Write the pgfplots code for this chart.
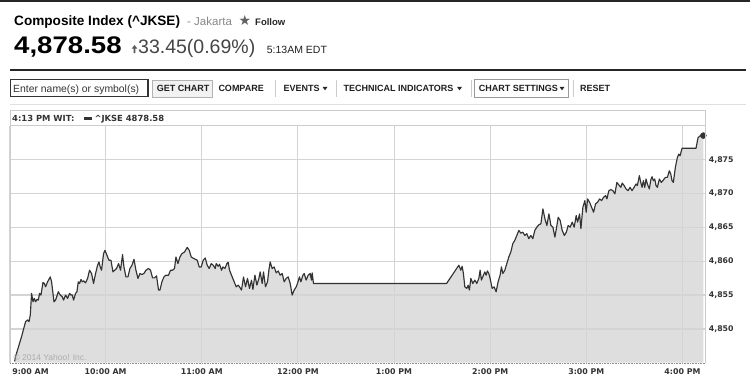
\documentclass[border=0pt]{standalone}
\usepackage{fontspec}
\setmainfont{Liberation Sans}
\newfontfamily\dv{DejaVu Sans}
\usepackage{pgfplots}
\usepackage{pgfplotstable}
\pgfplotsset{compat=1.18}
\definecolor{fillc}{HTML}{DEDEDE}
\definecolor{linec}{HTML}{333333}
\definecolor{gridc}{HTML}{D4D4D4}
\definecolor{framec}{HTML}{CCCCCC}
\newcommand\fs[1]{\fontsize{#1}{#1}\selectfont}
\pgfplotstableread{
m v
3.2 4845.19
3.8 4845.93
7.55 4848.87
10.04 4851.07
11.29 4851.32
12.17 4851.07
12.98 4852.06
13.79 4855.25
14.66 4854.01
15.47 4854.51
16.28 4854.01
17.16 4854.37
17.97 4854.26
18.78 4855.25
19.65 4855.00
20.90 4856.87
21.71 4856.72
22.52 4856.22
23.77 4856.96
25.46 4857.69
26.27 4856.96
27.76 4854.01
28.76 4854.26
30.45 4855.49
31.69 4855.00
32.94 4854.75
33.75 4854.26
35.00 4855.00
36.25 4854.51
37.50 4855.25
38.37 4855.00
39.18 4855.00
39.99 4854.26
41.24 4855.25
42.11 4855.49
42.92 4856.96
43.74 4856.72
44.61 4857.31
45.42 4856.96
46.23 4857.10
47.48 4856.81
48.73 4857.46
49.97 4858.68
51.22 4858.19
52.47 4856.72
53.72 4858.19
54.97 4859.41
55.84 4859.90
56.65 4859.16
57.46 4858.68
58.71 4861.13
59.58 4861.62
60.83 4860.88
62.08 4860.15
63.33 4860.15
64.57 4858.43
66.82 4858.93
68.07 4859.66
69.31 4858.68
70.56 4860.99
71.44 4859.16
72.69 4857.69
73.93 4857.69
75.18 4858.93
76.43 4859.41
77.68 4860.29
78.92 4858.68
80.17 4857.46
81.42 4858.19
82.67 4858.04
83.91 4858.19
85.16 4858.68
86.78 4858.93
88.03 4858.68
89.28 4857.54
90.53 4857.54
91.78 4857.84
93.02 4855.74
93.90 4855.74
95.14 4856.96
96.39 4857.69
97.64 4857.94
99.26 4857.94
100.51 4858.68
101.76 4858.68
103.00 4858.93
103.88 4860.63
105.13 4859.66
106.38 4860.63
107.62 4861.13
109.25 4861.37
110.93 4862.06
112.18 4861.62
113.43 4860.63
115.11 4860.40
117.17 4860.15
118.42 4859.16
119.67 4859.16
120.91 4860.15
122.16 4860.49
123.41 4859.41
124.66 4858.93
125.90 4859.66
127.15 4859.41
128.40 4858.93
129.02 4859.66
130.27 4859.26
131.08 4859.56
132.33 4858.68
133.20 4859.16
134.45 4858.93
135.70 4859.66
136.51 4859.85
137.32 4858.68
138.57 4857.94
139.82 4857.21
141.50 4856.22
142.75 4856.47
143.56 4856.22
144.81 4855.74
146.06 4857.69
147.31 4856.22
148.55 4857.46
149.80 4855.99
151.05 4857.21
151.92 4855.84
153.17 4857.94
154.42 4856.47
155.66 4857.46
156.47 4858.43
157.72 4856.72
158.53 4858.43
159.78 4856.22
161.03 4856.96
161.90 4858.68
162.71 4859.90
163.96 4858.93
165.21 4859.16
166.46 4858.28
167.71 4858.57
168.95 4857.94
170.20 4858.19
171.45 4856.96
172.70 4857.46
173.95 4857.69
175.19 4856.72
176.44 4855.00
177.69 4855.74
178.94 4856.22
179.75 4856.72
181.00 4857.69
181.87 4856.96
183.12 4857.94
183.93 4858.19
185.17 4857.21
186.42 4857.94
187.67 4858.19
188.48 4857.21
188.92 4858.28
189.73 4856.72
272.83 4856.72
280.44 4859.41
281.69 4858.68
282.50 4859.26
283.31 4858.19
284.19 4856.22
285.44 4855.99
286.25 4856.47
287.06 4855.74
287.93 4857.46
289.18 4856.72
290.43 4857.21
291.68 4856.72
292.93 4857.46
293.74 4858.68
294.55 4857.21
295.80 4857.94
296.67 4858.43
297.48 4857.94
298.29 4858.57
299.17 4858.19
299.98 4857.46
301.23 4855.99
302.48 4856.22
303.72 4855.49
304.97 4856.96
306.22 4857.94
307.03 4859.16
307.91 4858.19
309.16 4858.68
310.40 4859.66
311.65 4860.63
312.90 4861.37
314.15 4862.60
315.39 4863.09
316.64 4863.82
317.89 4864.56
319.14 4864.16
320.39 4864.31
321.63 4863.82
322.88 4864.07
324.13 4863.34
325.38 4863.82
326.63 4863.34
327.87 4864.56
329.12 4865.04
330.43 4865.40
331.68 4865.54
332.93 4867.75
334.18 4866.28
335.42 4865.29
336.67 4867.01
337.92 4865.29
339.17 4865.04
340.42 4863.57
341.66 4865.29
342.47 4866.51
343.72 4866.03
344.97 4864.56
346.33 4863.82
347.57 4864.31
348.71 4865.29
349.96 4865.04
351.21 4865.78
352.46 4865.04
353.70 4866.76
354.58 4865.78
355.82 4867.01
356.64 4864.81
357.88 4867.99
359.13 4868.97
359.94 4867.25
360.82 4869.22
362.06 4868.72
363.31 4867.99
364.56 4867.25
365.81 4868.49
367.06 4868.72
368.30 4869.22
369.55 4868.97
370.80 4869.46
372.05 4869.71
372.86 4869.22
374.11 4870.44
375.36 4870.59
376.61 4870.44
377.85 4869.96
379.10 4871.66
380.35 4871.28
381.60 4870.93
382.41 4871.57
383.66 4871.18
384.83 4870.69
386.08 4870.44
387.33 4870.93
388.58 4870.44
389.83 4870.93
391.07 4871.43
391.88 4871.18
393.13 4872.65
394.01 4871.66
394.82 4870.93
395.63 4871.91
396.50 4870.93
397.31 4872.16
398.12 4871.43
399.37 4870.69
400.24 4872.01
401.06 4872.50
401.87 4871.91
402.74 4872.16
403.55 4871.18
404.36 4870.93
405.61 4872.16
406.86 4871.66
408.11 4872.01
409.36 4872.40
410.60 4872.40
411.85 4873.38
412.73 4872.90
413.54 4871.91
414.35 4871.66
415.60 4873.87
416.84 4875.34
417.72 4875.84
418.53 4875.59
419.78 4876.72
428.51 4876.72
429.76 4878.28
431.01 4878.53
433.07 4878.58
}\jkse
\begin{document}
\begin{tikzpicture}
\begin{axis}[
  set layers,
  at={(9.5pt,-362.7pt)}, anchor=south west,
  scale only axis, width=695.5pt, height=236.7pt,
  xmin=0, xmax=434.1, ymin=4845, ymax=4880,
  axis line style={draw=none},
  major tick length=0pt,
  xtick={0,60,120,180,240,300,360,420},
  xticklabels={{\makebox[0pt][l]{\hspace{2.8pt}9:00 AM}},10:00 AM,11:00 AM,12:00 PM,1:00 PM,2:00 PM,3:00 PM,4:00 PM},
  ytick={4850,4855,4860,4865,4870,4875},
  yticklabels={{4,850},{4,855},{4,860},{4,865},{4,870},{4,875}},
  yticklabel pos=right,
  yticklabel style={font=\dv\bfseries\fs{7.8}, text=linec, anchor=west, inner sep=0pt, xshift=3.7pt},
  xticklabel style={font=\dv\bfseries\fs{7.9}, text=linec, anchor=north, inner sep=0pt, yshift=-5.4pt},
  grid=major,
  x grid style={gridc, line width=0.9pt},
  y grid style={gridc, line width=1.3pt},
  clip mode=individual,
]
\addplot[on layer=axis background, fill=fillc, draw=none] table[x=m,y=v]{\jkse} \closedcycle;
\addplot[linec, line width=1.15pt, line join=round] table[x=m,y=v]{\jkse};
\addplot[only marks, mark=*, mark size=3pt, linec] coordinates {(433.07,4878.58)};
\end{axis}
\begin{scope}[x=1pt,y=-1pt]
% top rule
\fill[black!85] (0,0) rectangle (750,1.6);
% title row
\node[anchor=base west,inner sep=0] at (14,25) {\fs{13.6}\bfseries Composite Index (\textasciicircum JKSE)};
\node[anchor=base west,inner sep=0,text=black!47] at (187,25) {\fs{11.5}- Jakarta};
\node[anchor=base west,inner sep=0,text=black!62] at (238.5,25.5) {\dv\fs{14}★};
\node[anchor=base west,inner sep=0,text=black!85] at (255,25) {\fs{9.5}\bfseries Follow};
% price row
\node[anchor=base west,inner sep=0] at (14,53.3) {\scalebox{1.15}[1]{\fs{24}\bfseries 4,878.58}};
\fill[black!65] (134.5,45) -- (137.3,48.6) -- (135.4,48.6) -- (135.4,53) -- (133.6,53) -- (133.6,48.6) -- (131.7,48.6) -- cycle;
\node[anchor=base west,inner sep=0,text=black!73] at (138,53.3) {\fs{19.5}33.45(0.69\%)};
\node[anchor=base west,inner sep=0,text=black!88] at (266.7,53.3) {\fs{10.5}5:13AM EDT};
% thick rule
\fill[black!85] (10,68.8) rectangle (746,71.3);
% toolbar
\draw[black!80, line width=1.2pt] (10.6,79.6) rectangle (148,96.4);
\node[anchor=base west,inner sep=0,text=black!80] at (13,92) {\fs{10.4}Enter name(s) or symbol(s)};
\draw[black!30, fill=black!5] (151.7,79.8) rectangle (211.7,96.7);
\node[anchor=base west,inner sep=0,text=black!88] at (156.7,91.5) {\fs{9}\bfseries GET CHART};
\node[anchor=base west,inner sep=0,text=black!88] at (218.3,91.5) {\fs{9}\bfseries COMPARE};
\draw[black!20] (275,80) -- (275,97);
\node[anchor=base west,inner sep=0,text=black!88] at (283.3,91.5) {\fs{9}\bfseries EVENTS};
\fill[black!85] (322.5,86.8) -- (327.5,86.8) -- (325,90.3) -- cycle;
\draw[black!20] (336,80) -- (336,97);
\node[anchor=base west,inner sep=0,text=black!88] at (343.5,91.5) {\fs{9}\bfseries TECHNICAL INDICATORS};
\fill[black!85] (457,86.8) -- (462,86.8) -- (459.5,90.3) -- cycle;
\draw[black!20] (470.7,80) -- (470.7,97);
\draw[black!40] (474,79.6) rectangle (568.3,96.7);
\node[anchor=base west,inner sep=0,text=black!88] at (478.7,91.5) {\fs{9}\bfseries CHART SETTINGS};
\fill[black!85] (559.5,86.8) -- (564.5,86.8) -- (562,90.3) -- cycle;
\draw[black!20] (572.7,80) -- (572.7,97);
\node[anchor=base west,inner sep=0,text=black!88] at (580,91.5) {\fs{9}\bfseries RESET};
\draw[black!12, line width=1pt] (10,104) -- (746,104);
% chart frame
\draw[framec, line width=0.8pt] (10,362.7) -- (10,110.8) -- (705,110.8) -- (705,362.7);
\draw[framec, line width=0.8pt] (10,125.8) -- (705,125.8);
\draw[black!45, dash pattern=on 0.8pt off 0.8pt] (10,362.7) -- (705,362.7);
\node[anchor=base west,inner sep=0,text=linec] at (12,121.5) {\dv\bfseries\fs{8.4}4:13 PM WIT:};
\fill[linec] (83.5,117.3) rectangle (91.7,120.3);
\node[anchor=base west,inner sep=0,text=linec] at (94.3,121.5) {\dv\bfseries\fs{8.4}\textasciicircum JKSE 4878.58};
\node[anchor=base west,inner sep=0,text=black!32] at (13.3,360) {\fs{8.5}© 2014 Yahoo! Inc.};
\end{scope}
\pgfresetboundingbox
\path[use as bounding box] (0pt,0pt) rectangle (750pt,-380pt);
\end{tikzpicture}
\end{document}
